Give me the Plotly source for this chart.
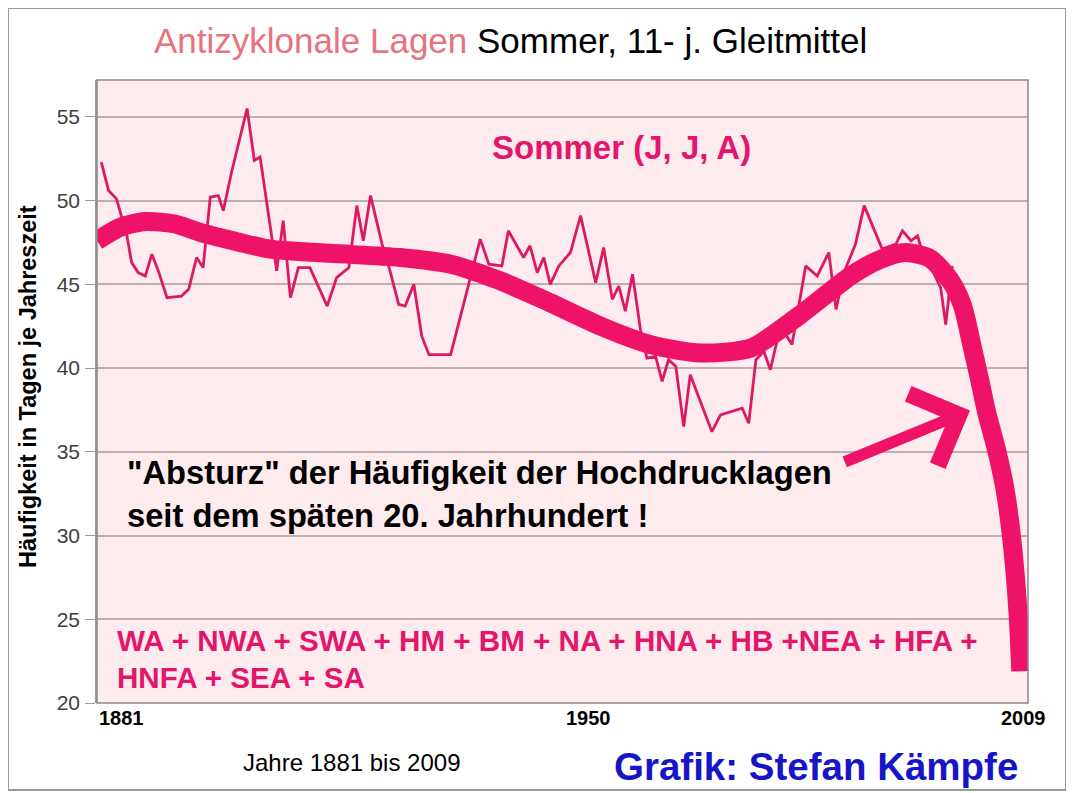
import plotly.graph_objects as go

# Thin line: 11-year moving average (vertices)
ma_years = [1881.6, 1882.6, 1883.7, 1885.1, 1885.8, 1886.7, 1887.7, 1888.6, 1889.5, 1890.7,
            1892.7, 1893.7, 1894.8, 1895.7, 1896.7, 1897.8, 1898.5, 1899.7, 1901.8, 1902.8,
            1903.6, 1905.9, 1906.8, 1907.8, 1908.9, 1910.5, 1912.9, 1914.2, 1915.9, 1917.0,
            1917.9, 1918.9, 1920.5, 1921.6, 1922.8, 1923.7, 1924.9, 1926.0, 1927.0, 1930.0,
            1932.5, 1934.1, 1935.3, 1937.1, 1938.0, 1940.1, 1941.0, 1942.0, 1942.9, 1943.8,
            1945.0, 1946.6, 1948.0, 1950.1, 1951.2, 1952.4, 1953.3, 1954.2, 1955.2, 1956.3,
            1957.2, 1958.4, 1959.3, 1960.2, 1961.2, 1962.3, 1963.2, 1966.2, 1967.4, 1970.4,
            1971.3, 1972.3, 1973.4, 1974.3, 1975.7, 1977.3, 1979.2, 1980.8, 1982.4, 1983.4,
            1984.5, 1986.1, 1987.3, 1989.8, 1991.7, 1992.6, 1993.8, 1994.7, 1995.1, 1997.9,
            1998.6, 1999.5]
ma_values = [52.3, 50.6, 50.1, 48.0, 46.3, 45.7, 45.5, 46.8, 45.8, 44.2,
             44.3, 44.7, 46.6, 46.0, 50.2, 50.3, 49.4, 51.8, 55.5, 52.4,
             52.6, 45.8, 48.8, 44.2, 46.0, 46.0, 43.7, 45.4, 46.0, 49.7,
             47.6, 50.3, 47.4, 45.8, 43.8, 43.7, 45.0, 41.9, 40.8, 40.8,
             45.0, 47.7, 46.2, 46.1, 48.2, 46.6, 47.3, 45.7, 46.6, 45.0,
             46.1, 46.9, 49.1, 45.1, 47.2, 44.1, 44.9, 43.4, 45.6, 42.3,
             40.6, 40.7, 39.2, 40.5, 40.1, 36.5, 39.6, 36.2, 37.2, 37.6,
             36.7, 40.5, 41.0, 39.9, 42.5, 41.4, 46.1, 45.5, 46.9, 43.5,
             45.7, 47.4, 49.7, 47.1, 47.4, 48.2, 47.6, 47.9, 47.3, 44.8,
             42.6, 46.1]

# Thick trend curve
trend_years = [1881, 1884.2, 1887.7, 1891.8, 1895.3, 1900.8, 1905, 1913.3, 1923, 1930,
               1936.9, 1943.8, 1950.8, 1957.7, 1964.6, 1971.6, 1978.5, 1985.4, 1989.6,
               1993.0, 1996.4, 1999.2, 2000.9, 2002.2, 2003.3, 2004.3, 2005.6, 2006.8,
               2007.8, 2008.6, 2009]
trend_values = [47.6, 48.4, 48.75, 48.6, 48.1, 47.5, 47.1, 46.85, 46.6, 46.2,
                45.2, 43.9, 42.5, 41.4, 40.9, 41.2, 43.2, 45.5, 46.5,
                46.9, 46.55, 45.25, 43.76, 41.4, 39.3, 37.3, 35.2, 32.8,
                29.6, 25.5, 21.9]

y_ticks = [20, 25, 30, 35, 40, 45, 50, 55]
x_labels = ["1881", "1950", "2009"]
x_label_years = [1881, 1950, 2009]

PINK = "#ee1269"
TEXT_PINK = "#e3166b"
FONT = "Liberation Sans"

fig = go.Figure()
fig.add_trace(go.Scatter(x=ma_years, y=ma_values, mode="lines",
                         line=dict(color="#dc1a63", width=2.8), hoverinfo="skip"))
fig.add_trace(go.Scatter(x=trend_years, y=trend_values, mode="lines",
                         line=dict(color=PINK, width=19, shape="spline", smoothing=0.7),
                         hoverinfo="skip"))

OFF = 8  # page body margin
W, H = 1074 - OFF, 793 - OFF
L, T = 97 - OFF, 80 - OFF
R = W - (1028 - OFF)
B = H - (703 - OFF)
pw, ph = W - L - R, H - T - B

def px(xr):
    return (xr - OFF - L) / pw

def py(yr):
    return (H - B - (yr - OFF)) / ph

def text_ann(xr, yr, text, size, color, xanchor="center", bold=False, angle=0):
    return dict(x=px(xr), y=py(yr), xref="paper", yref="paper", showarrow=False,
                xanchor=xanchor, yanchor="middle", textangle=angle,
                text=f"<b>{text}</b>" if bold else text,
                font=dict(family=FONT, size=size, color=color))

ann = [
    text_ann(510, 40, '<span style="color:#e8727e">Antizyklonale Lagen</span> Sommer, 11- j. Gleitmittel',
             35, "black"),
    text_ann(621, 148, "Sommer (J, J, A)", 33, TEXT_PINK, bold=True),
    text_ann(125, 472, '"Absturz" der Häufigkeit der Hochdrucklagen', 32.7, "black", "left", True),
    text_ann(125, 515, "seit dem späten 20. Jahrhundert !", 32.7, "black", "left", True),
    text_ann(115, 640, "WA + NWA + SWA + HM + BM + NA + HNA + HB +NEA + HFA +", 29.6, TEXT_PINK, "left", True),
    text_ann(115, 677, "HNFA + SEA + SA", 29.6, TEXT_PINK, "left", True),
    text_ann(28, 387, "Häufigkeit in Tagen je Jahreszeit", 23.5, "black", bold=True, angle=-90),
    text_ann(352, 762, "Jahre 1881 bis 2009", 24, "black"),
    text_ann(816, 766, "Grafik: Stefan Kämpfe", 38.5, "#1616c8", bold=True),
]
anchors = ["left", "center", "center"]
shifts = [0, -6, 3]
for lab, yr, anc, sh in zip(x_labels, x_label_years, anchors, shifts):
    ann.append(dict(x=yr, y=py(718), xref="x", yref="paper", showarrow=False, xanchor=anc,
                    yanchor="middle", xshift=sh, text=f"<b>{lab}</b>",
                    font=dict(family=FONT, size=20, color="black")))
# arrow
ann.append(dict(x=2001.96, y=37.47, ax=1984.4, ay=34.36, xref="x", yref="y", axref="x", ayref="y",
                text="", showarrow=True, arrowhead=4, arrowsize=1.3, arrowwidth=11.5, arrowcolor=PINK,
                standoff=0, startstandoff=0))

shapes = [
    dict(type="rect", xref="paper", yref="paper", x0=0, x1=1, y0=0, y1=1,
         line=dict(color="#8a8a8a", width=1.5), layer="above"),
    dict(type="rect", xref="paper", yref="paper", x0=px(8), x1=px(1066), y0=py(790), y1=py(8),
         line=dict(color="#9a9a9a", width=2), layer="below"),
]

fig.update_layout(
    width=W, height=H,
    margin=dict(l=L, r=R, t=T, b=B),
    paper_bgcolor="white", plot_bgcolor="#fdebee",
    showlegend=False,
    annotations=ann, shapes=shapes,
    xaxis=dict(range=[1881, 2010], showgrid=False, showticklabels=False, zeroline=False,
               ticks="", showline=False, fixedrange=True),
    yaxis=dict(range=[20, 57.2], tickvals=y_ticks, showgrid=True, gridcolor="#b8b0b2", gridwidth=1.5,
               zeroline=False, ticks="outside", ticklen=10, tickcolor="#a0a0a0", tickwidth=1.2,
               showline=True, linecolor="#9a9a9a", linewidth=1.5,
               tickfont=dict(family=FONT, size=21, color="#404040"), ticklabelstandoff=1,
               fixedrange=True),
)

fig.write_html("out.html")
